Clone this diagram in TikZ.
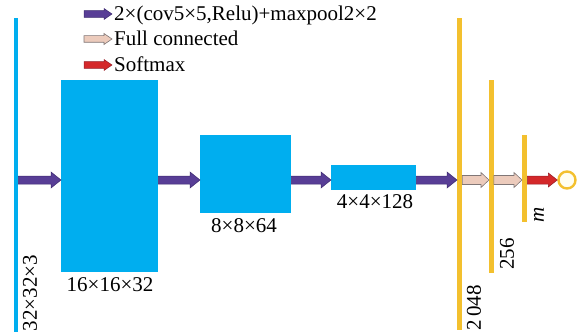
\documentclass[tikz,border=0pt]{standalone}
\usepackage{fontspec}
\setmainfont{Liberation Serif}
\usetikzlibrary{calc}

\definecolor{layerblue}{RGB}{0,174,239}
\definecolor{fcyellow}{RGB}{243,192,46}
\definecolor{convfill}{RGB}{88,62,150}
\definecolor{convedge}{RGB}{60,42,112}
\definecolor{fcfill}{RGB}{236,203,188}
\definecolor{fcedge}{RGB}{128,118,118}
\definecolor{smfill}{RGB}{212,40,42}
\definecolor{smedge}{RGB}{150,30,40}

% Block arrow from the x of #2 to the x of #3, at the height of #2.
% #1 style, #4 half shaft width, #5 half head width, #6 head length
\newcommand\fatarrow[6]{%
  \path[#1] let \p1=(#2), \p2=(#3) in
    (\x1,{\y1+#4}) -- ({\x2-#6},{\y1+#4}) -- ({\x2-#6},{\y1+#5}) --
    (\x2,\y1) -- ({\x2-#6},{\y1-#5}) -- ({\x2-#6},{\y1-#4}) --
    (\x1,{\y1-#4}) -- cycle;}

\tikzset{
  convarrow/.style={fill=convfill, draw=convedge, line width=0.5pt},
  fcarrow/.style={fill=fcfill, draw=fcedge, line width=0.6pt},
  smarrow/.style={fill=smfill, draw=smedge, line width=0.5pt},
  fmap/.style={fill=layerblue, draw=none, rectangle, inner sep=0pt, anchor=north west},
  fcbar/.style={fill=fcyellow, draw=none, rectangle, inner sep=0pt, anchor=north west},
  lbl/.style={inner sep=0pt, font=\fontsize{21}{23}\selectfont},
}

\begin{document}
\begin{tikzpicture}[x=1pt,y=-1pt]
\useasboundingbox (0,0) rectangle (578,334);

% data axis through the network
\coordinate (ax) at (0,180);

% feature maps
\node[fmap, minimum width=4.5pt, minimum height=314pt] (inp) at (13.5,18) {};
\node[fmap, minimum width=97pt, minimum height=192pt] (blk1) at (61,80) {};
\node[fmap, minimum width=91pt, minimum height=78pt] (blk2) at (200,135) {};
\node[fmap, minimum width=85pt, minimum height=25pt] (blk3) at (331,165) {};

% fully connected layers
\node[fcbar, minimum width=5pt, minimum height=312pt] (fc1) at (457,18) {};
\node[fcbar, minimum width=4.5pt, minimum height=193pt] (fc2) at (489,80) {};
\node[fcbar, minimum width=5pt, minimum height=87pt] (fc3) at (522,135) {};

% output
\node[circle, draw=fcyellow, line width=2.4pt, fill=yellow!6, minimum size=17pt, inner sep=0pt] (out) at (567,180) {};

% size labels
\node[lbl, rotate=90] (l0) at (30,293) {32×32×3};
\node[lbl] (l1) at (110,285) {16×16×32};
\node[lbl] (l2) at (244,226) {8×8×64};
\node[lbl] (l3) at (375,202) {4×4×128};
\node[lbl, rotate=90] (l4) at (474,308) {2\,048};
\node[lbl, rotate=90] (l5) at (507,254) {256};
\node[lbl, rotate=90] (l6) at (539,215) {\itshape m};

% connections
\fatarrow{convarrow}{inp.east |- ax}{blk1.west |- ax}{4pt}{8pt}{10pt}
\fatarrow{convarrow}{blk1.east |- ax}{blk2.west |- ax}{4pt}{8pt}{10pt}
\fatarrow{convarrow}{blk2.east |- ax}{blk3.west |- ax}{4pt}{8pt}{10pt}
\fatarrow{convarrow}{blk3.east |- ax}{fc1.west |- ax}{4pt}{8pt}{10pt}
\fatarrow{fcarrow}{fc1.east |- ax}{fc2.west |- ax}{4.5pt}{7.5pt}{8pt}
\fatarrow{fcarrow}{fc2.east |- ax}{fc3.west |- ax}{4.5pt}{7.5pt}{8pt}
\fatarrow{smarrow}{fc3.east |- ax}{out.west |- ax}{4pt}{7pt}{9pt}

% legend
\coordinate (k1a) at (84,14); \coordinate (k1b) at (112,14);
\coordinate (k2a) at (84,39); \coordinate (k2b) at (112,39);
\coordinate (k3a) at (84,65); \coordinate (k3b) at (112,65);
\fatarrow{convarrow}{k1a}{k1b}{3.3pt}{5.5pt}{8pt}
\fatarrow{fcarrow}{k2a}{k2b}{3.3pt}{5.5pt}{8pt}
\fatarrow{smarrow}{k3a}{k3b}{3.3pt}{5.5pt}{8pt}
\node[lbl, anchor=base west] (t1) at (114,21) {2×(cov5×5,Relu)+maxpool2×2};
\node[lbl, anchor=base west] (t2) at (114,46) {Full connected};
\node[lbl, anchor=base west] (t3) at (114,72) {Softmax};
\end{tikzpicture}
\end{document}
